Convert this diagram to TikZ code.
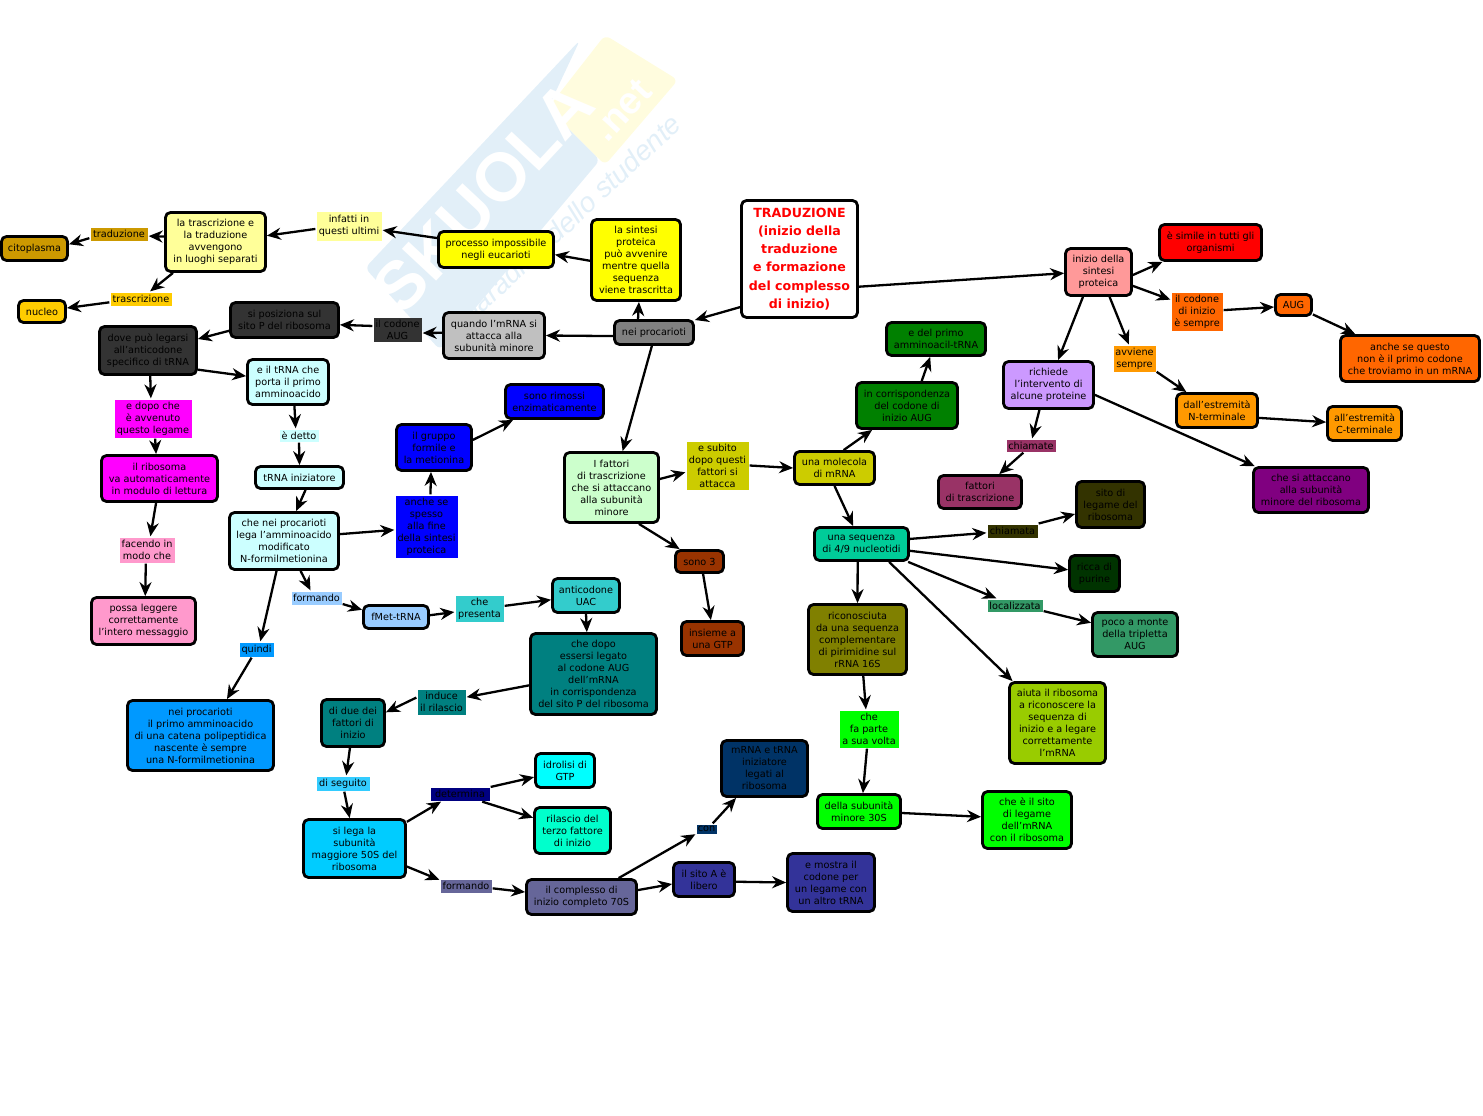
\documentclass[tikz,border=0pt]{standalone}
\usepackage{fontspec}
\setmainfont{DejaVu Sans}
\newfontfamily\wmfont{Liberation Sans}
\usetikzlibrary{arrows.meta,
                positioning}
\definecolor{pureyellow}{RGB}{255,255,0}
\definecolor{puremagenta}{RGB}{255,0,255}
\definecolor{purecyan}{RGB}{0,255,255}
\definecolor{wmblue}{RGB}{226,239,248}
\definecolor{wmyellow}{RGB}{255,252,222}

\begin{document}
\begin{tikzpicture}[
x = 1pt, y = -1pt,
line width = 2.3pt,
        > = {Stealth[length=14pt,width=12pt]},
every node/.append style = {font=\fontsize{9.7}{12}\selectfont, align=center, inner sep=0pt},
       sz/.style 2 args = {minimum width=#1pt+1pt, minimum height=#2pt+1pt},
        N/.style = {draw, rectangle, rounded corners=5pt, line width=2.8pt},
        L/.style = {rectangle}
                    ]
\useasboundingbox (0,0) rectangle (1483,1116);
% watermark
\fill[wmblue, rounded corners=6pt] (580,40) -- (365,268) -- (440,350) -- (600,160) -- (548,108) -- cycle;
\fill[wmyellow, rounded corners=6pt] (605,35) -- (678,80) -- (605,165) -- (548,108) -- cycle;
\node (wmname) [rotate=47, text=white, font=\wmfont\bfseries\fontsize{68}{68}\selectfont] at (483,197) {SKUOLA};
\node (wmnet) [rotate=47, text=white, font=\wmfont\bfseries\fontsize{38}{38}\selectfont] at (622,110) {.net};
\node (wmslogan) [rotate=43, text=wmblue, font=\wmfont\itshape\fontsize{28}{28}\selectfont] at (565,227) {il paradiso dello studente};
%
\node (trad) [N, sz={115}{116}, fill=white, text=red, font=\bfseries\fontsize{12.6}{18.3}\selectfont] at (799.5,259)
  {TRADUZIONE\\(inizio della\\traduzione\\e formazione\\del complesso\\di inizio)};
\node (inizio) [N, sz={65}{46}, fill={rgb,255:red,255;green,153;blue,153}] at (1098.5,272) {inizio della\\sintesi\\proteica};
\node (simile) [N, sz={101}{35}, fill=red] at (1210.5,242.5) {è simile in tutti gli\\organismi};
\node (codone) [L, sz={50}{37}, fill={rgb,255:red,255;green,102;blue,0}] at (1197,311.5) {il codone\\di inizio\\è sempre};
\node (aug) [N, sz={35}{20}, fill={rgb,255:red,255;green,102;blue,0}] at (1293.5,305) {AUG};
\node (anche) [N, sz={138}{45}, fill={rgb,255:red,255;green,102;blue,0}] at (1410,358.5) {anche se questo\\non è il primo codone\\che troviamo in un mRNA};
\node (avviene) [L, sz={41}{25}, fill={rgb,255:red,255;green,153;blue,0}] at (1134.5,358.5) {avviene\\sempre};
\node (dall) [N, sz={80}{33}, fill={rgb,255:red,255;green,153;blue,0}] at (1217,410.5) {dall'estremità\\N-terminale};
\node (all) [N, sz={73}{33}, fill={rgb,255:red,255;green,153;blue,0}] at (1364.5,423.5) {all'estremità\\C-terminale};
\node (richiede) [N, sz={89}{46}, fill={rgb,255:red,204;green,153;blue,255}] at (1048.5,385) {richiede\\l'intervento di\\alcune proteine};
\node (chiamate) [L, sz={48}{11}, fill={rgb,255:red,153;green,51;blue,102}] at (1031,445.5) {chiamate};
\node (fattori) [N, sz={82}{32}, fill={rgb,255:red,153;green,51;blue,102}] at (980,492) {fattori\\di trascrizione};
\node (attaccano) [N, sz={114}{44}, fill={rgb,255:red,128;green,0;blue,128}] at (1311,490) {che si attaccano\\alla subunità\\minore del ribosoma};
\node (primo) [N, sz={98}{32}, fill={rgb,255:red,0;green,128;blue,0}] at (936,339) {e del primo\\amminoacil-tRNA};
\node (incorr) [N, sz={100}{45}, fill={rgb,255:red,0;green,128;blue,0}] at (907,405.5) {in corrispondenza\\del codone di\\inizio AUG};
\node (molecola) [N, sz={79}{32}, fill={rgb,255:red,204;green,204;blue,0}] at (834.5,468) {una molecola\\di mRNA};
\node (esubito) [L, sz={61}{47}, fill={rgb,255:red,204;green,204;blue,0}] at (717.5,465.5) {e subito\\dopo questi\\fattori si\\attacca};
\node (fattorit) [N, sz={93}{69}, fill={rgb,255:red,204;green,255;blue,204}] at (611.5,487.5) {I fattori\\di trascrizione\\che si attaccano\\alla subunità\\minore};
\node (sono) [N, sz={47}{21}, fill={rgb,255:red,153;green,51;blue,0}] at (699.5,561.5) {sono 3};
\node (gtp) [N, sz={61}{33}, fill={rgb,255:red,153;green,51;blue,0}] at (712.5,638.5) {insieme a\\una GTP};
\node (sequenza) [N, sz={93}{32}, fill={rgb,255:red,0;green,204;blue,153}] at (861.5,544) {una sequenza\\di 4/9 nucleotidi};
\node (chiamata) [L, sz={49}{12}, fill={rgb,255:red,51;green,51;blue,0}] at (1012.5,531) {chiamata};
\node (sitolegame) [N, sz={67}{45}, fill={rgb,255:red,51;green,51;blue,0}] at (1110.5,504.5) {sito di\\legame del\\ribosoma};
\node (ricca) [N, sz={49}{35}, fill={rgb,255:red,0;green,51;blue,0}] at (1094.5,573.5) {ricca di\\purine};
\node (localizzata) [L, sz={54}{11}, fill={rgb,255:red,51;green,153;blue,102}] at (1015,605.5) {localizzata};
\node (poco) [N, sz={84}{43}, fill={rgb,255:red,51;green,153;blue,102}] at (1135,634.5) {poco a monte\\della tripletta\\AUG};
\node (aiuta) [N, sz={95}{80}, fill={rgb,255:red,153;green,204;blue,0}] at (1057.5,723) {aiuta il ribosoma\\a riconoscere la\\sequenza di\\inizio e a legare\\correttamente\\l'mRNA};
\node (riconosciuta) [N, sz={97}{69}, fill={rgb,255:red,128;green,128;blue,0}] at (857.5,639.5) {riconosciuta\\da una sequenza\\complementare\\di pirimidine sul\\rRNA 16S};
\node (chefa) [L, sz={58}{36}, fill={rgb,255:red,0;green,255;blue,0}] at (869,729) {che\\fa parte\\a sua volta};
\node (subtrenta) [N, sz={82}{33}, fill={rgb,255:red,0;green,255;blue,0}] at (859,811.5) {della subunità\\minore 30S};
\node (chesito) [N, sz={88}{56}, fill={rgb,255:red,0;green,255;blue,0}] at (1027,820) {che è il sito\\di legame\\dell'mRNA\\con il ribosoma};
\node (proc) [N, sz={78}{23}, fill={rgb,255:red,128;green,128;blue,128}] at (654,332.5) {nei procarioti};
\node (sintesi) [N, sz={88}{80}, fill=pureyellow] at (636,260) {la sintesi\\proteica\\può avvenire\\mentre quella\\sequenza\\viene trascritta};
\node (processo) [N, sz={114}{35}, fill=pureyellow] at (496,249.5) {processo impossibile\\negli eucarioti};
\node (infatti) [L, sz={64}{28}, fill={rgb,255:red,255;green,255;blue,153}] at (349,226) {infatti in\\questi ultimi};
\node (trascr) [N, sz={99}{58}, fill={rgb,255:red,255;green,255;blue,153}] at (215.5,242) {la trascrizione e\\la traduzione\\avvengono\\in luoghi separati};
\node (traduzione) [L, sz={56}{12}, fill={rgb,255:red,204;green,153;blue,0}] at (119,234) {traduzione};
\node (citoplasma) [N, sz={65}{23}, fill={rgb,255:red,204;green,153;blue,0}] at (34.5,248.5) {citoplasma};
\node (trascrizione) [L, sz={60}{12}, fill={rgb,255:red,255;green,204;blue,0}] at (141,299) {trascrizione};
\node (nucleo) [N, sz={46}{21}, fill={rgb,255:red,255;green,204;blue,0}] at (42,311.5) {nucleo};
\node (quando) [N, sz={100}{45}, fill={rgb,255:red,192;green,192;blue,192}] at (494,335.5) {quando l'mRNA si\\attacca alla\\subunità minore};
\node (ilcodone) [L, sz={47}{23}, fill={rgb,255:red,51;green,51;blue,51}] at (397.5,329.5) {il codone\\AUG};
\node (posiziona) [N, sz={107}{34}, fill={rgb,255:red,51;green,51;blue,51}] at (284.5,320) {si posiziona sul\\sito P del ribosoma};
\node (dove) [N, sz={96}{47}, fill={rgb,255:red,51;green,51;blue,51}] at (148,350.5) {dove può legarsi\\all'anticodone\\specifico di tRNA};
\node (etrna) [N, sz={80}{44}, fill={rgb,255:red,204;green,255;blue,255}] at (288,382) {e il tRNA che\\porta il primo\\amminoacido};
\node (edopo) [L, sz={76}{37}, fill=puremagenta] at (153,418.5) {e dopo che\\è avvenuto\\questo legame};
\node (ribosoma) [N, sz={115}{45}, fill=puremagenta] at (159.5,478.5) {il ribosoma\\va automaticamente\\in modulo di lettura};
\node (facendo) [L, sz={54}{24}, fill={rgb,255:red,255;green,153;blue,204}] at (147,550) {facendo in\\modo che};
\node (possa) [N, sz={103}{46}, fill={rgb,255:red,255;green,153;blue,204}] at (143.5,621) {possa leggere\\correttamente\\l'intero messaggio};
\node (edetto) [L, sz={38}{11}, fill={rgb,255:red,204;green,255;blue,255}] at (299,435.5) {è detto};
\node (iniziatore) [N, sz={87}{21}, fill={rgb,255:red,204;green,255;blue,255}] at (299.5,477.5) {tRNA iniziatore};
\node (chenei) [N, sz={108}{56}, fill={rgb,255:red,204;green,255;blue,255}] at (284,541) {che nei procarioti\\lega l'amminoacido\\modificato\\N-formilmetionina};
\node (anchese) [L, sz={61}{61}, fill=blue] at (426.5,526.5) {anche se\\spesso\\alla fine\\della sintesi\\proteica};
\node (gruppo) [N, sz={74}{45}, fill=blue] at (434,447.5) {il gruppo\\formile e\\la metionina};
\node (rimossi) [N, sz={97}{33}, fill=blue] at (554.5,401.5) {sono rimossi\\enzimaticamente};
\node (formando) [L, sz={49}{12}, fill={rgb,255:red,153;green,204;blue,255}] at (316.5,598) {formando};
\node (fmet) [N, sz={64}{22}, fill={rgb,255:red,153;green,204;blue,255}] at (396,617) {fMet-tRNA};
\node (chepres) [L, sz={47}{25}, fill={rgb,255:red,51;green,204;blue,204}] at (479.5,608.5) {che\\presenta};
\node (anticodone) [N, sz={66}{33}, fill={rgb,255:red,51;green,204;blue,204}] at (586,595.5) {anticodone\\UAC};
\node (chedopo) [N, sz={125}{80}, fill={rgb,255:red,0;green,128;blue,128}] at (593.5,674) {che dopo\\essersi legato\\al codone AUG\\dell'mRNA\\in corrispondenza\\del sito P del ribosoma};
\node (quindi) [L, sz={33}{13}, fill={rgb,255:red,0;green,153;blue,255}] at (256.5,649.5) {quindi};
\node (neiproc) [N, sz={145}{69}, fill={rgb,255:red,0;green,153;blue,255}] at (200.5,735.5) {nei procarioti\\il primo amminoacido\\di una catena polipeptidica\\nascente è sempre\\una N-formilmetionina};
\node (induce) [L, sz={47}{24}, fill={rgb,255:red,0;green,128;blue,128}] at (441.5,702) {induce\\il rilascio};
\node (duedei) [N, sz={62}{46}, fill={rgb,255:red,0;green,128;blue,128}] at (353,723) {di due dei\\fattori di\\inizio};
\node (diseguito) [L, sz={52}{13}, fill={rgb,255:red,51;green,204;blue,255}] at (343,783.5) {di seguito};
\node (silega) [N, sz={101}{57}, fill={rgb,255:red,0;green,204;blue,255}] at (354.5,848.5) {si lega la\\subunità\\maggiore 50S del\\ribosoma};
\node (determina) [L, sz={58}{12}, fill={rgb,255:red,0;green,0;blue,128}] at (460,794) {determina};
\node (idrolisi) [N, sz={58}{33}, fill=purecyan] at (565,770.5) {idrolisi di\\GTP};
\node (rilascio) [N, sz={75}{45}, fill={rgb,255:red,0;green,255;blue,204}] at (572.5,830.5) {rilascio del\\terzo fattore\\di inizio};
\node (formandob) [L, sz={50}{12}, fill={rgb,255:red,102;green,102;blue,153}] at (466,886) {formando};
\node (complesso) [N, sz={109}{34}, fill={rgb,255:red,102;green,102;blue,153}] at (581.5,897) {il complesso di\\inizio completo 70S};
\node (con) [L, sz={19}{8}, fill={rgb,255:red,0;green,51;blue,102}] at (706.5,829) {con};
\node (mrna) [N, sz={85}{55}, fill={rgb,255:red,0;green,51;blue,102}] at (764.5,768.5) {mRNA e tRNA\\iniziatore\\legati al\\ribosoma};
\node (sitoa) [N, sz={60}{33}, fill={rgb,255:red,51;green,51;blue,153}] at (704,879.5) {il sito A è\\libero};
\node (mostra) [N, sz={86}{57}, fill={rgb,255:red,51;green,51;blue,153}] at (831,882.5) {e mostra il\\codone per\\un legame con\\un altro tRNA};
%
\draw[->] (trad.-141) -- (proc.17);
\draw[->] (trad.-25) -- (inizio.182);
\draw[->] (proc.140) -- (sintesi.274);
\draw[->] (proc.185) -- (quando.east);
\draw[->] (proc.261) -- (fattorit.73);
\draw[->] (sintesi.181) -- (processo.-5);
\draw[->] (processo.169) -- (infatti.-7);
\draw[->] (infatti.185) -- (trascr.7);
\draw[->] (trascr.174) -- (traduzione.-4);
\draw[->] (traduzione.188) -- (citoplasma.7);
\draw[->] (trascr.216) -- (trascrizione.40);
\draw[->] (trascrizione.186) -- (nucleo.8);
\draw[->] (quando.177) -- (ilcodone.-8);
\draw[->] (ilcodone.172) -- (posiziona.-5);
\draw[->] (posiziona.191) -- (dove.13);
\draw[->] (dove.-21) -- (etrna.172);
\draw[->] (dove.-85) -- (edopo.96);
\draw[->] (edopo.-84) -- (ribosoma.98);
\draw[->] (ribosoma.-98) -- (facendo.76);
\draw[->] (facendo.-95) -- (possa.86);
\draw[->] (etrna.-75) -- (edetto.115);
\draw[->] (edetto.south) -- (iniziatore.north);
\draw[->] (iniziatore.-64) -- (chenei.68);
\draw[->] (chenei.7) -- (anchese.186);
\draw[->] (anchese.83) -- (gruppo.263);
\draw[->] (gruppo.11) -- (rimossi.204);
\draw[->] (chenei.-61) -- (formando.128);
\draw[->] (formando.-13) -- (fmet.168);
\draw[->] (fmet.3) -- (chepres.188);
\draw[->] (chepres.6) -- (anticodone.187);
\draw[->] (anticodone.south) -- (chedopo.99);
\draw[->] (chedopo.190) -- (induce.11);
\draw[->] (induce.170) -- (duedei.18);
\draw[->] (chenei.256) -- (quindi.65);
\draw[->] (quindi.239) -- (neiproc.54);
\draw[->] (duedei.263) -- (diseguito.68);
\draw[->] (diseguito.-81) -- (silega.99);
\draw[->] (silega.27) -- (determina.202);
\draw[->] (determina.13) -- (idrolisi.192);
\draw[->] (determina.-19) -- (rilascio.162);
\draw[->] (silega.-19) -- (formandob.167);
\draw[->] (formandob.-5) -- (complesso.175);
\draw[->] (complesso.27) -- (con.205);
\draw[->] (con.42) -- (mrna.226);
\draw[->] (complesso.7) -- (sitoa.188);
\draw[->] (sitoa.-4) -- (mostra.west);
\draw[->] (fattorit.10) -- (esubito.192);
\draw[->] (esubito.east) -- (molecola.west);
\draw[->] (fattorit.-53) -- (sono.148);
\draw[->] (sono.-74) -- (gtp.95);
\draw[->] (molecola.63) -- (incorr.215);
\draw[->] (incorr.59) -- (primo.252);
\draw[->] (molecola.south) -- (sequenza.115);
\draw[->] (sequenza.6) -- (chiamata.184);
\draw[->] (chiamata.16) -- (sitolegame.195);
\draw[->] (sequenza.-8) -- (ricca.172);
\draw[->] (sequenza.-21) -- (localizzata.159);
\draw[->] (localizzata.-11) -- (poco.165);
\draw[->] (sequenza.-33) -- (aiuta.137);
\draw[->] (sequenza.258) -- (riconosciuta.north);
\draw[->] (riconosciuta.-81) -- (chefa.99);
\draw[->] (chefa.264) -- (subtrenta.78);
\draw[->] (subtrenta.-2) -- (chesito.176);
\draw[->] (inizio.-5) -- (simile.202);
\draw[->] (inizio.-22) -- (codone.156);
\draw[->] (codone.3) -- (aug.186);
\draw[->] (aug.-26) -- (anche.156);
\draw[->] (inizio.-66) -- (avviene.112);
\draw[->] (avviene.-31) -- (dall.149);
\draw[->] (dall.-10) -- (all.178);
\draw[->] (inizio.238) -- (richiede.69);
\draw[->] (richiede.250) -- (chiamate.81);
\draw[->] (chiamate.223) -- (fattori.43);
\draw[->] (richiede.-12) -- (attaccano.157);
\end{tikzpicture}
\end{document}
